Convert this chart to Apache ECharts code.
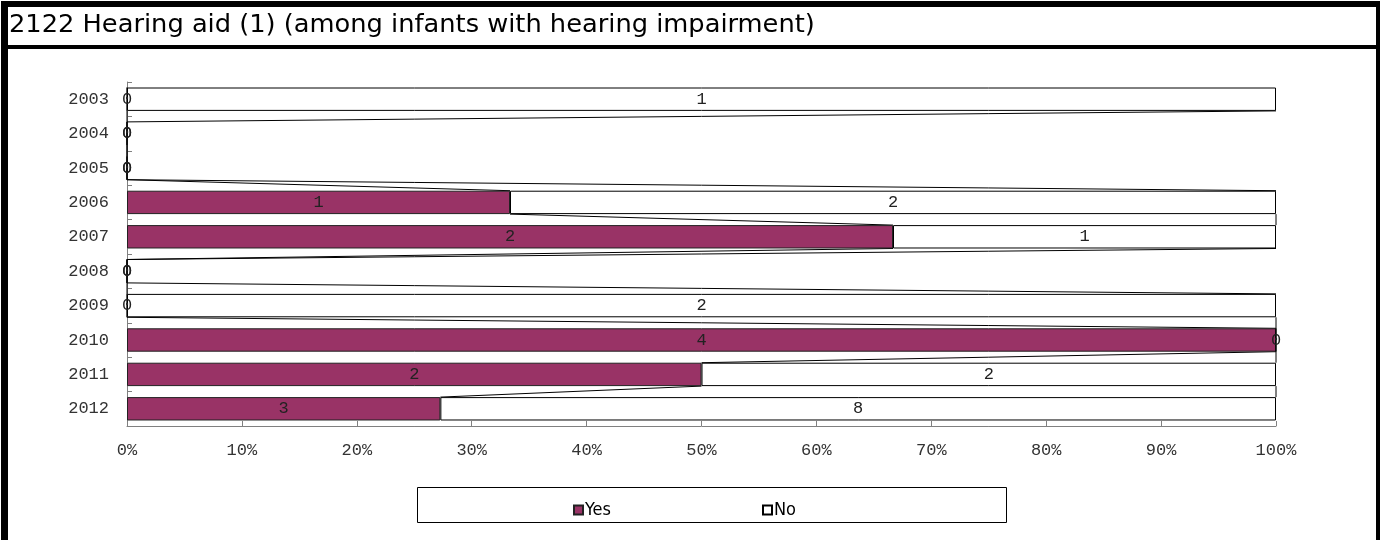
<!DOCTYPE html>
<html>
<head>
<meta charset="utf-8">
<script src="https://cdn.jsdelivr.net/npm/echarts@6/dist/echarts.min.js"></script>
<style>
html,body{margin:0;padding:0;background:#fff;}
#chart{width:1380px;height:540px;}
</style>
</head>
<body>
<div id="chart"></div>
<script>
var titleText = '2122 Hearing aid (1) (among infants with hearing impairment)';
var years = ['2003','2004','2005','2006','2007','2008','2009','2010','2011','2012'];
var yesCounts = [0, 0, 0, 1, 2, 0, 0, 4, 2, 3];
var noCounts  = [1, 0, 0, 2, 1, 0, 2, 0, 2, 8];
var xTickLabels = ['0%','10%','20%','30%','40%','50%','60%','70%','80%','90%','100%'];

function pct(a, b) { var t = a + b; return t > 0 ? a / t * 100 : 0; }
var yesPct = yesCounts.map(function (v, i) { return pct(v, noCounts[i]); });
var noPct = noCounts.map(function (v, i) { return pct(v, yesCounts[i]); });
var yesEnd = yesPct.slice();
var noEnd = yesPct.map(function (v, i) { return v + noPct[i]; });

// series-line segments: [xFrom, catFrom, xTo, catTo]
var seriesLineData = [];
for (var i = 0; i < years.length - 1; i++) {
  seriesLineData.push([yesEnd[i], i, yesEnd[i + 1], i + 1]);
  seriesLineData.push([noEnd[i], i, noEnd[i + 1], i + 1]);
}

var BAR_FRAC = 0.68;
var monoFont = '"Liberation Mono", "DejaVu Sans Mono", monospace';
var sansFont = '"DejaVu Sans Condensed", "DejaVu Sans", sans-serif';

var chart = echarts.init(document.getElementById('chart'), null, { renderer: 'canvas' });
chart.setOption({
  animation: false,
  backgroundColor: '#fff',
  graphic: [
    { type: 'rect', shape: { x: 1, y: 1, width: 1379, height: 6 }, style: { fill: '#000' } },
    { type: 'rect', shape: { x: 1, y: 45, width: 1379, height: 4 }, style: { fill: '#000' } },
    { type: 'rect', shape: { x: 1, y: 1, width: 7, height: 539 }, style: { fill: '#000' } },
    { type: 'rect', shape: { x: 1376, y: 1, width: 4, height: 539 }, style: { fill: '#000' } },
    { type: 'text', x: 9, y: 26, scaleX: 1.19, originX: 0, originY: 0,
      style: { text: titleText, font: '24px ' + sansFont, fill: '#000', textVerticalAlign: 'middle', verticalAlign: 'middle' } },
    { type: 'rect', shape: { x: 417.5, y: 487.5, width: 589, height: 35 }, style: { fill: 'none', stroke: '#000', lineWidth: 1 } }
  ],
  legend: [
    { data: ['Yes'], left: 568, top: 496, itemWidth: 9, itemHeight: 9, itemGap: 0, icon: 'rect',
      textStyle: { fontFamily: sansFont, fontSize: 18, color: '#000', padding: [0, 0, 0, -3] } },
    { data: ['No'], left: 757, top: 496, itemWidth: 9, itemHeight: 9, itemGap: 0, icon: 'rect',
      textStyle: { fontFamily: sansFont, fontSize: 18, color: '#000', padding: [0, 0, 0, -3] } }
  ],
  grid: { left: 127, right: 104, top: 82, bottom: 114, containLabel: false },
  xAxis: {
    type: 'value', min: 0, max: 100, interval: 10,
    axisLine: { show: true, lineStyle: { color: '#808080', width: 1 } },
    axisTick: { show: true, inside: true, length: 5, lineStyle: { color: '#808080' } },
    splitLine: { show: false },
    axisLabel: {
      margin: 16, color: '#333', fontFamily: monoFont, fontSize: 17,
      formatter: function (v) { return xTickLabels[Math.round(v / 10)]; }
    }
  },
  yAxis: {
    type: 'category', inverse: true, data: years,
    axisLine: { show: true, lineStyle: { color: '#808080', width: 1 } },
    axisTick: { show: true, inside: true, length: 5, alignWithLabel: false, lineStyle: { color: '#808080' } },
    axisLabel: { margin: 18, color: '#333', fontFamily: monoFont, fontSize: 17 }
  },
  series: [
    {
      name: 'Yes', type: 'bar', stack: 'total', data: yesPct,
      barCategoryGap: '32%',
      itemStyle: { color: '#993366', borderColor: '#222', borderWidth: 1 },
      label: { show: true, position: 'inside', color: '#222', fontFamily: monoFont, fontSize: 17,
        formatter: function (p) { return String(yesCounts[p.dataIndex]); } },
      z: 3
    },
    {
      name: 'No', type: 'bar', stack: 'total', data: noPct,
      barCategoryGap: '32%',
      itemStyle: { color: '#ffffff', borderColor: '#000', borderWidth: 1 },
      label: { show: true, position: 'inside', color: '#222', fontFamily: monoFont, fontSize: 17,
        formatter: function (p) { return String(noCounts[p.dataIndex]); } },
      z: 3
    },
    {
      name: 'seriesLines', type: 'custom', data: seriesLineData,
      encode: { x: [0, 2], y: [1, 3] },
      silent: true, z: 2,
      renderItem: function (params, api) {
        var band = api.size([0, 1])[1];
        var half = band * BAR_FRAC / 2;
        var p1 = api.coord([api.value(0), api.value(1)]);
        var p2 = api.coord([api.value(2), api.value(3)]);
        return {
          type: 'line',
          shape: { x1: p1[0], y1: p1[1] + half, x2: p2[0], y2: p2[1] - half },
          style: { stroke: '#000', lineWidth: 1 }
        };
      }
    }
  ]
});
</script>
</body>
</html>
